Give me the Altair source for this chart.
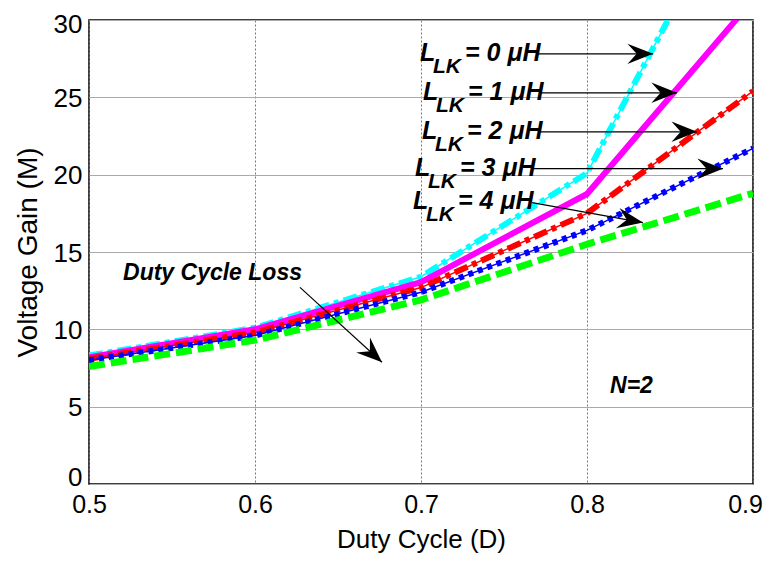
import altair as alt
import pandas as pd
import math

# ---- data ----
duty = [0.5, 0.6, 0.7, 0.8, 0.9]
gain_lk0 = [8.3, 10.1, 13.4, 20.1, 40.4]
gain_lk1 = [8.2, 10.0, 13.05, 18.75, 31.3]
gain_lk2 = [8.1, 9.8, 12.7, 17.5, 25.4]
gain_lk3 = [8.0, 9.6, 12.4, 16.4, 21.7]
gain_lk4 = [7.6, 9.3, 11.9, 15.5, 18.8]
series_names = ["0", "1", "2", "3", "4"]

x_ticks = [0.5, 0.6, 0.7, 0.8, 0.9]
y_ticks = [0, 5, 10, 15, 20, 25, 30]

# label anchors (data coords): left of "L", baseline
label_x = [0.6994, 0.7012, 0.7006, 0.6964, 0.6952]
label_y = [27.35, 24.84, 22.32, 19.94, 17.81]
# arrows (data coords)
arrow_x = [0.7705, 0.7717, 0.7717, 0.7675, 0.7669, 0.6271]
arrow_y = [27.81, 25.29, 22.77, 20.39, 18.19, 12.71]
arrow_x2 = [0.8398, 0.8542, 0.8663, 0.8819, 0.8337, 0.6765]
arrow_y2 = [27.81, 25.29, 22.77, 20.39, 16.90, 7.87]

note_texts = ["Duty Cycle Loss", "N=2"]
note_x = [0.5205, 0.8139]
note_y = [13.16, 5.87]

W, H = 664, 464
XD = [0.5, 0.9]
YD = [0, 30]

xs = alt.Scale(domain=XD, nice=False, zero=False)
ys = alt.Scale(domain=YD, nice=False, zero=False)

all_gains = [gain_lk0, gain_lk1, gain_lk2, gain_lk3, gain_lk4]
colors = ["#00FFFF", "#FF00FF", "#FF0000", "#0000FF", "#00FF00"]
styles = [
    dict(thick=dict(strokeWidth=6, strokeDash=[14, 5, 5, 5]), thin=True),
    dict(thick=dict(strokeWidth=6), thin=False),
    dict(thick=dict(strokeWidth=6, strokeDash=[14, 5, 5, 5]), thin=True),
    dict(thick=dict(strokeWidth=6, strokeDash=[5, 5]), thin=True),
    dict(thick=dict(strokeWidth=7, strokeDash=[16, 6]), thin=False),
]

x_axis = alt.Axis(values=x_ticks, format=".1f", title="Duty Cycle (D)", grid=True,
                  gridDash=[2, 2], gridColor="#777777", gridWidth=1, ticks=False,
                  domain=False, labelFlush=False, labelPadding=8, titlePadding=9,
                  labelOffset={"condition": {"test": "datum.value > 0.85", "value": -8},
                               "value": 0},
                  labelFontSize=25, titleFontSize=26)
y_axis = alt.Axis(values=y_ticks, title="Voltage Gain (M)", grid=True,
                  gridColor="#aaaaaa", gridWidth=1, ticks=False, domain=False,
                  labelPadding=7,
                  labelOffset={"condition": [{"test": "datum.value > 29", "value": 4},
                                             {"test": "datum.value < 1", "value": -7}],
                               "value": 1},
                  titlePadding=11, labelFontSize=26, titleFontSize=28)


def X(field):
    return alt.X(field, scale=xs, axis=x_axis)


def Y(field):
    return alt.Y(field, scale=ys, axis=y_axis)


layers = []
for name, g, col, st in zip(series_names, all_gains, colors, styles):
    df = pd.DataFrame({"D": duty, "M": g, "s": name})
    if st["thin"]:
        layers.append(alt.Chart(df).mark_line(color=col, strokeWidth=1.5, clip=True)
                      .encode(x=X("D:Q"), y=Y("M:Q")))
    layers.append(alt.Chart(df).mark_line(color=col, clip=True, **st["thick"])
                  .encode(x=X("D:Q"), y=Y("M:Q")))

# arrows
arr = pd.DataFrame({"x": arrow_x, "y": arrow_y, "x2": arrow_x2, "y2": arrow_y2})
px_per_x = W / (XD[1] - XD[0])
px_per_y = H / (YD[1] - YD[0])
arr["ang"] = [
    (math.degrees(math.atan2((a - b) * px_per_y, (c - d) * px_per_x)) + 360) % 360
    for a, b, c, d in zip(arrow_y, arrow_y2, arrow_x2, arrow_x)
]
layers.append(alt.Chart(arr).mark_rule(color="black", strokeWidth=1.2).encode(
    x=X("x:Q"), y=Y("y:Q"), x2="x2:Q", y2="y2:Q"))
head = "M0,0L-2.5,-1L-1.6,0L-2.5,1Z"
layers.append(alt.Chart(arr).mark_point(shape=head, filled=True, color="black",
                                        size=420, opacity=1, strokeWidth=0).encode(
    x=X("x2:Q"), y=Y("y2:Q"),
    angle=alt.Angle("ang:Q", scale=None)))

# labels with subscript
lab = pd.DataFrame({"x": label_x, "y": label_y,
                    "rest": [f"= {n} μH" for n in series_names]})
font = "Liberation Sans"
common = dict(font=font, fontWeight="bold", fontStyle="italic", align="left",
              baseline="alphabetic", color="black")
layers.append(alt.Chart(lab).mark_text(text="L", fontSize=25, **common).encode(
    x=X("x:Q"), y=Y("y:Q")))
layers.append(alt.Chart(lab).mark_text(text="LK", fontSize=21, dx=13, dy=12, **common).encode(
    x=X("x:Q"), y=Y("y:Q")))
layers.append(alt.Chart(lab).mark_text(fontSize=25, dx=45, **common).encode(
    x=X("x:Q"), y=Y("y:Q"), text="rest:N"))

notes = pd.DataFrame({"x": note_x, "y": note_y, "t": note_texts})
layers.append(alt.Chart(notes).mark_text(fontSize=23, **common).encode(
    x=X("x:Q"), y=Y("y:Q"), text="t:N"))

chart = alt.layer(*layers).properties(
    width=W, height=H,
    autosize=alt.AutoSizeParams(type="none"),
    padding={"left": 81, "top": 12, "right": 10, "bottom": 74},
).configure_view(stroke="black", strokeWidth=1.5).configure_axis(
    labelFont=font, titleFont=font, labelColor="black", titleColor="black",
    titleFontWeight="normal")

chart.save("out.html", embed_options={"renderer": "svg", "actions": False})
